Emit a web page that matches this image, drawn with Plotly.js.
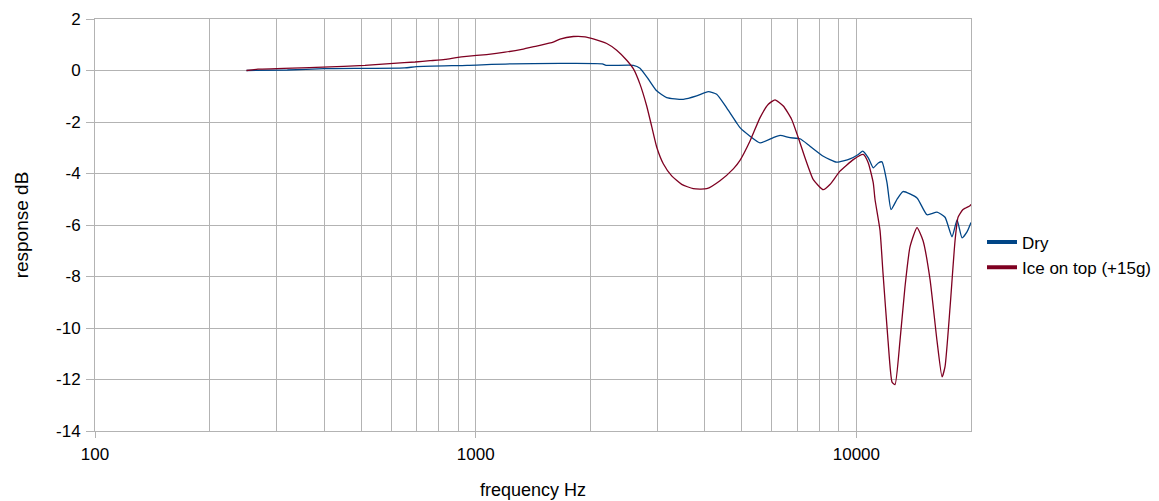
<!DOCTYPE html>
<html>
<head>
<meta charset="utf-8">
<script src="https://cdn.plot.ly/plotly-3.0.1.min.js"></script>
<style>html,body{margin:0;padding:0;background:#fff;}#chart{width:1159px;height:501px;}</style>
</head>
<body>
<div id="chart"></div>
<script>
// Dry series
var dryFreq = [250, 320, 400, 650, 700, 950, 1250, 2150, 2200, 2594, 2701, 2840, 2988, 3175, 3510, 3805, 4083, 4295, 4563, 4849, 4946, 5255, 5584, 6050, 6300, 6693, 7109, 7553, 8185, 8875, 9620, 10116, 10389, 10746, 11076, 11416, 11675, 12037, 12331, 12785, 13255, 14428, 15326, 16283, 17093, 17834, 18383, 18947, 19520, 20000];
var dryDb = [0, 0.02, 0.07, 0.1, 0.15, 0.2, 0.26, 0.26, 0.2, 0.2, 0.09, -0.33, -0.79, -1.05, -1.12, -0.99, -0.82, -0.92, -1.45, -2.04, -2.22, -2.55, -2.81, -2.61, -2.52, -2.61, -2.65, -2.94, -3.33, -3.56, -3.43, -3.26, -3.13, -3.39, -3.78, -3.59, -3.55, -4.37, -5.4, -5.0, -4.7, -4.95, -5.6, -5.5, -5.7, -6.46, -5.8, -6.5, -6.27, -5.9];
// Ice on top series
var iceFreq = [250, 268, 397, 512, 608, 693, 759, 831, 889, 946, 1068, 1194, 1322, 1445, 1598, 1665, 1805, 1937, 2036, 2209, 2346, 2493, 2594, 2701, 2813, 2899, 2988, 3110, 3272, 3476, 3728, 4044, 4382, 4750, 4946, 5255, 5584, 5870, 6113, 6427, 6761, 7037, 7328, 7706, 8185, 8521, 9055, 9815, 10425, 10746, 11076, 11190, 11534, 11746, 12110, 12406, 12632, 13016, 13417, 13829, 14428, 14960, 15607, 16283, 16786, 17093, 17620, 18162, 18494, 19055, 19880, 20000];
var iceDb = [0, 0.05, 0.13, 0.2, 0.28, 0.33, 0.38, 0.43, 0.5, 0.55, 0.62, 0.71, 0.82, 0.95, 1.1, 1.22, 1.32, 1.31, 1.23, 1.05, 0.79, 0.4, 0.07, -0.53, -1.38, -2.17, -2.97, -3.62, -4.09, -4.42, -4.59, -4.59, -4.28, -3.82, -3.49, -2.74, -1.83, -1.31, -1.14, -1.38, -1.9, -2.61, -3.39, -4.24, -4.63, -4.43, -3.91, -3.46, -3.26, -3.59, -4.37, -5.0, -6.2, -7.87, -10.5, -12.1, -12.2, -10.5, -8.4, -6.85, -6.1, -6.6, -8.1, -10.5, -11.9, -11.5, -9.2, -6.6, -5.7, -5.4, -5.25, -5.2];

var seriesNames = ["Dry", "Ice on top (+15g)"];
var seriesColors = ["#004586", "#7e0021"];

var majorTicks = [100, 1000, 10000];
var minorTicks = [200, 300, 400, 500, 600, 700, 800, 900, 2000, 3000, 4000, 5000, 6000, 7000, 8000, 9000, 20000];
var yTicks = [2, 0, -2, -4, -6, -8, -10, -12, -14];

var traces = [
  {x: dryFreq, y: dryDb, type: 'scatter', mode: 'lines', name: seriesNames[0], showlegend: false,
   line: {color: seriesColors[0], width: 1.3, shape: 'spline', smoothing: 0.5}},
  {x: iceFreq, y: iceDb, type: 'scatter', mode: 'lines', name: seriesNames[1], showlegend: false,
   line: {color: seriesColors[1], width: 1.3, shape: 'spline', smoothing: 0.5}},
  {x: [null], y: [null], type: 'scatter', mode: 'lines', name: seriesNames[0], line: {color: seriesColors[0], width: 4}},
  {x: [null], y: [null], type: 'scatter', mode: 'lines', name: seriesNames[1], line: {color: seriesColors[1], width: 4}}
];

var font = "Liberation Sans, Arial, sans-serif";
var layout = {
  width: 1159, height: 501,
  margin: {l: 95, r: 188, t: 19, b: 70},
  paper_bgcolor: '#ffffff', plot_bgcolor: '#ffffff',
  font: {family: font, size: 17, color: '#000'},
  xaxis: {
    type: 'log', range: [2, Math.log10(20000)],
    tickmode: 'array', tickvals: majorTicks, ticktext: majorTicks.map(String),
    ticks: 'outside', ticklen: 6, tickcolor: '#b3b3b3', ticklabelstandoff: 2,
    showgrid: true, gridcolor: '#b3b3b3', gridwidth: 1,
    minor: {tickmode: 'array', tickvals: minorTicks, showgrid: true, gridcolor: '#b3b3b3', ticks: ''},
    showline: true, mirror: true, linecolor: '#b3b3b3', linewidth: 1,
    zeroline: false, automargin: false,
    tickfont: {family: font, size: 17},
    title: {text: 'frequency Hz', font: {family: font, size: 18}, standoff: 19}
  },
  yaxis: {
    range: [-14, 2],
    tickmode: 'array', tickvals: yTicks, ticktext: yTicks.map(String),
    ticks: 'outside', ticklen: 8, tickcolor: '#b3b3b3', ticklabelstandoff: 2,
    showgrid: true, gridcolor: '#b3b3b3', gridwidth: 1,
    showline: true, mirror: true, linecolor: '#b3b3b3', linewidth: 1,
    zeroline: false, automargin: false,
    tickfont: {family: font, size: 17},
    title: {text: 'response dB', font: {family: font, size: 19}, standoff: 22}
  },
  legend: {
    xref: 'container', yref: 'container',
    x: 982 / 1159, y: 1 - 255 / 501, xanchor: 'left', yanchor: 'middle',
    font: {family: font, size: 17}, itemwidth: 30, tracegroupgap: 0,
    bgcolor: 'rgba(0,0,0,0)'
  },
  showlegend: true
};

Plotly.newPlot('chart', traces, layout, {displayModeBar: false, staticPlot: true});
</script>
</body>
</html>
